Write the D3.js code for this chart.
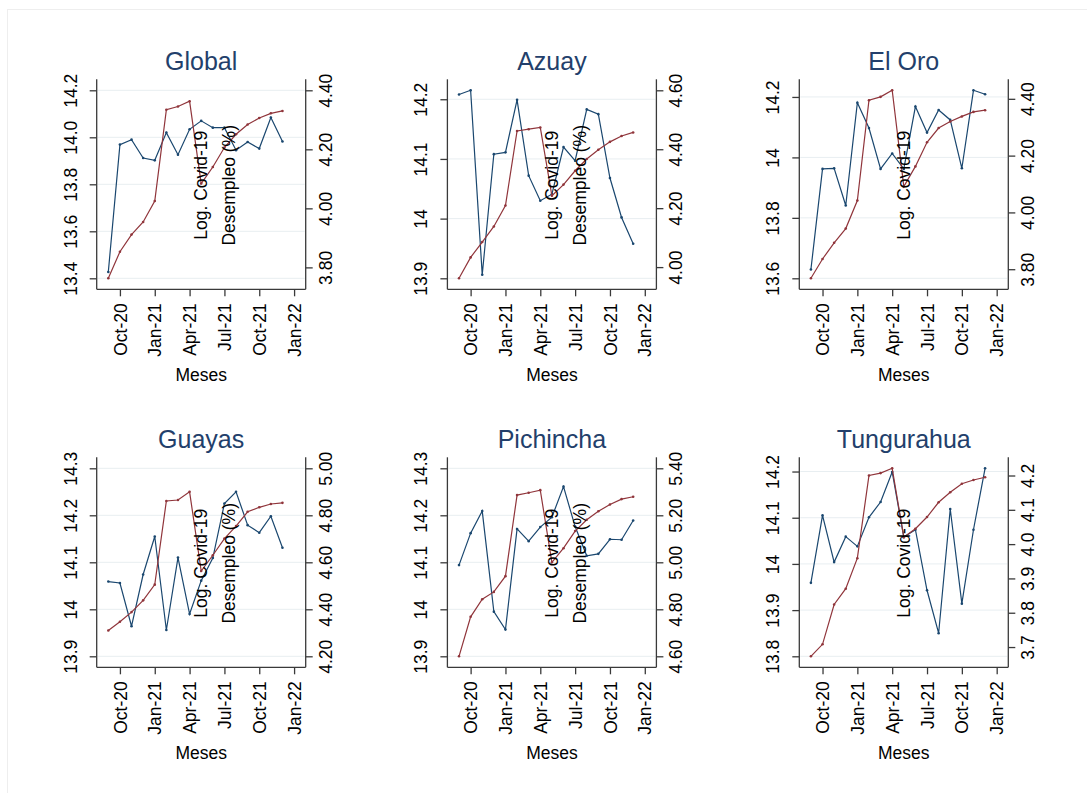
<!DOCTYPE html>
<html><head><meta charset="utf-8">
<script src="https://cdn.jsdelivr.net/npm/d3@7"></script>
<style>
body{margin:0;background:#fff}
svg{display:block}
text{font-family:"Liberation Sans",Arial,Helvetica,sans-serif}
</style>
</head><body>
<svg id="c" width="1087" height="793"></svg>
<script>
// ---- data ----
const months = ["Sep-20","Oct-20","Nov-20","Dec-20","Jan-21","Feb-21","Mar-21","Apr-21","May-21","Jun-21","Jul-21","Aug-21","Sep-21","Oct-21","Nov-21","Dec-21"];
const xTickIdx = [1,4,7,10,13,16];
const xTickLabels = ["Oct-20","Jan-21","Apr-21","Jul-21","Oct-21","Jan-22"];
const regions = ["Global","Azuay","El Oro","Guayas","Pichincha","Tungurahua"];

const covidGlobal = [13.427,13.969,13.990,13.912,13.902,14.020,13.926,14.034,14.070,14.041,14.041,13.945,13.980,13.952,14.084,13.982];
const desempleoGlobal = [3.763,3.853,3.911,3.954,4.025,4.334,4.345,4.363,4.084,4.140,4.206,4.251,4.284,4.306,4.322,4.330];

const covidAzuay = [14.208,14.215,13.906,14.108,14.111,14.199,14.072,14.030,14.041,14.120,14.097,14.183,14.175,14.068,14.002,13.958];
const desempleoAzuay = [3.962,4.033,4.085,4.138,4.209,4.462,4.468,4.474,4.242,4.280,4.327,4.367,4.398,4.425,4.445,4.457];

const covidElOro = [13.629,13.962,13.964,13.841,14.181,14.097,13.962,14.013,13.962,14.168,14.082,14.157,14.124,13.964,14.222,14.209];
const desempleoElOro = [3.768,3.836,3.893,3.943,4.042,4.395,4.407,4.430,4.091,4.162,4.247,4.297,4.320,4.338,4.354,4.360];

const covidGuayas = [14.059,14.056,13.964,14.074,14.155,13.956,14.110,13.990,14.061,14.109,14.225,14.250,14.179,14.163,14.198,14.131];
const desempleoGuayas = [4.310,4.347,4.388,4.438,4.505,4.861,4.865,4.900,4.563,4.630,4.701,4.754,4.815,4.834,4.848,4.853];

const covidPichincha = [14.094,14.162,14.209,13.995,13.957,14.171,14.145,14.175,14.196,14.261,14.176,14.114,14.118,14.149,14.148,14.189];
const desempleoPichincha = [4.600,4.768,4.843,4.874,4.941,5.286,5.296,5.307,5.000,5.060,5.133,5.181,5.217,5.246,5.269,5.279];

const covidTungurahua = [13.959,14.105,14.004,14.059,14.038,14.101,14.134,14.199,14.058,14.074,13.943,13.850,14.119,13.914,14.074,14.207];
const desempleoTungurahua = [3.673,3.708,3.824,3.870,3.959,4.200,4.207,4.221,4.020,4.045,4.079,4.122,4.151,4.176,4.187,4.195];

// tick values / labels per panel
const leftTicksGlobal = [13.4,13.6,13.8,14.0,14.2], leftLabelsGlobal = ["13.4","13.6","13.8","14.0","14.2"];
const rightTicksGlobal = [3.8,4.0,4.2,4.4], rightLabelsGlobal = ["3.80","4.00","4.20","4.40"];
const leftTicksAzuay = [13.9,14.0,14.1,14.2], leftLabelsAzuay = ["13.9","14","14.1","14.2"];
const rightTicksAzuay = [4.0,4.2,4.4,4.6], rightLabelsAzuay = ["4.00","4.20","4.40","4.60"];
const leftTicksElOro = [13.6,13.8,14.0,14.2], leftLabelsElOro = ["13.6","13.8","14","14.2"];
const rightTicksElOro = [3.8,4.0,4.2,4.4], rightLabelsElOro = ["3.80","4.00","4.20","4.40"];
const leftTicksGuayas = [13.9,14.0,14.1,14.2,14.3], leftLabelsGuayas = ["13.9","14","14.1","14.2","14.3"];
const rightTicksGuayas = [4.2,4.4,4.6,4.8,5.0], rightLabelsGuayas = ["4.20","4.40","4.60","4.80","5.00"];
const leftTicksPichincha = [13.9,14.0,14.1,14.2,14.3], leftLabelsPichincha = ["13.9","14","14.1","14.2","14.3"];
const rightTicksPichincha = [4.6,4.8,5.0,5.2,5.4], rightLabelsPichincha = ["4.60","4.80","5.00","5.20","5.40"];
const leftTicksTungurahua = [13.8,13.9,14.0,14.1,14.2], leftLabelsTungurahua = ["13.8","13.9","14","14.1","14.2"];
const rightTicksTungurahua = [3.7,3.8,3.9,4.0,4.1,4.2], rightLabelsTungurahua = ["3.7","3.8","3.9","4.0","4.1","4.2"];

// axis ranges
const leftDomains = [[13.4,14.2],[13.9,14.215],[13.6,14.222],[13.9,14.3],[13.9,14.3],[13.8,14.207]];
const rightDomains = [[3.763,4.40],[3.962,4.60],[3.768,4.430],[4.2,5.0],[4.6,5.4],[3.673,4.221]];

const covidSeries = [covidGlobal,covidAzuay,covidElOro,covidGuayas,covidPichincha,covidTungurahua];
const desempleoSeries = [desempleoGlobal,desempleoAzuay,desempleoElOro,desempleoGuayas,desempleoPichincha,desempleoTungurahua];
const leftTicks = [leftTicksGlobal,leftTicksAzuay,leftTicksElOro,leftTicksGuayas,leftTicksPichincha,leftTicksTungurahua];
const leftLabels = [leftLabelsGlobal,leftLabelsAzuay,leftLabelsElOro,leftLabelsGuayas,leftLabelsPichincha,leftLabelsTungurahua];
const rightTicks = [rightTicksGlobal,rightTicksAzuay,rightTicksElOro,rightTicksGuayas,rightTicksPichincha,rightTicksTungurahua];
const rightLabels = [rightLabelsGlobal,rightLabelsAzuay,rightLabelsElOro,rightLabelsGuayas,rightLabelsPichincha,rightLabelsTungurahua];
const showDesempleoTitle = [true,true,false,true,true,false];

// ---- layout ----
const NAVY = "#1a476f", MAROON = "#90353b", AX = "#3a3a3a", GRID = "#e8eef1", TITLE = "#233f6b";
const colX = [96.7, 447.4, 799.3];
const rowY = [79.3, 457.3];
const W = 209, H = 210, M = 11;
const FS = 17.5;

const svg = d3.select("#c");
svg.append("rect").attr("x",7.5).attr("y",9.5).attr("width",1200).attr("height",900)
  .attr("fill","#fff").attr("stroke","#eeeeee").attr("stroke-width",1);

regions.forEach((name, i) => {
  const L = colX[i % 3], T = rowY[Math.floor(i / 3)];
  const R = L + W, B = T + H;
  const g = svg.append("g");

  const x = d3.scaleLinear().domain([-1, 17]).range([L, R]);
  const yL = d3.scaleLinear().domain(leftDomains[i]).range([B - M, T + M]);
  const yR = d3.scaleLinear().domain(rightDomains[i]).range([B - M, T + M]);

  // gridlines at left ticks
  g.append("g").selectAll("line").data(leftTicks[i]).join("line")
    .attr("x1", L + 1).attr("x2", R - 1)
    .attr("y1", d => yL(d)).attr("y2", d => yL(d))
    .attr("stroke", GRID).attr("stroke-width", 1);

  // axis lines
  g.append("line").attr("x1",L).attr("x2",L).attr("y1",T).attr("y2",B).attr("stroke",AX).attr("stroke-width",1.3);
  g.append("line").attr("x1",R).attr("x2",R).attr("y1",T).attr("y2",B).attr("stroke",AX).attr("stroke-width",1.3);
  g.append("line").attr("x1",L).attr("x2",R).attr("y1",B).attr("y2",B).attr("stroke",AX).attr("stroke-width",1.3);

  // left axis
  const la = g.append("g").attr("transform", `translate(${L},0)`)
    .call(d3.axisLeft(yL).tickValues(leftTicks[i]).tickFormat((d, k) => leftLabels[i][k]).tickSize(7).tickSizeOuter(0));
  la.select(".domain").remove();
  la.selectAll("line").attr("stroke", AX).attr("stroke-width", 1.3);
  la.selectAll("text").attr("x", null).attr("dy", null)
    .attr("transform", "translate(-20,0) rotate(-90)")
    .attr("text-anchor", "middle").attr("font-size", FS).attr("fill", "#000").attr("font-family", null);

  // right axis
  const ra = g.append("g").attr("transform", `translate(${R},0)`)
    .call(d3.axisRight(yR).tickValues(rightTicks[i]).tickFormat((d, k) => rightLabels[i][k]).tickSize(7).tickSizeOuter(0));
  ra.select(".domain").remove();
  ra.selectAll("line").attr("stroke", AX).attr("stroke-width", 1.3);
  ra.selectAll("text").attr("x", null).attr("dy", null)
    .attr("transform", "translate(26,0) rotate(-90)")
    .attr("text-anchor", "middle").attr("font-size", FS).attr("fill", "#000").attr("font-family", null);

  // bottom axis
  const ba = g.append("g").attr("transform", `translate(0,${B})`)
    .call(d3.axisBottom(x).tickValues(xTickIdx).tickFormat((d, k) => xTickLabels[k]).tickSize(7).tickSizeOuter(0));
  ba.select(".domain").remove();
  ba.selectAll("line").attr("stroke", AX).attr("stroke-width", 1.3);
  ba.selectAll("text").attr("y", null).attr("dy", "0.35em")
    .attr("transform", "translate(0,14) rotate(-90)")
    .attr("text-anchor", "end").attr("font-size", FS).attr("fill", "#000").attr("font-family", null);

  // series lines
  const lineL = d3.line().x((d, k) => x(k)).y(d => yL(d));
  const lineR = d3.line().x((d, k) => x(k)).y(d => yR(d));
  g.append("path").datum(covidSeries[i]).attr("d", lineL).attr("fill","none").attr("stroke",NAVY).attr("stroke-width",1.2);
  g.append("g").selectAll("circle").data(covidSeries[i]).join("circle")
    .attr("cx", (d, k) => x(k)).attr("cy", d => yL(d)).attr("r", 1.3).attr("fill", NAVY);
  g.append("path").datum(desempleoSeries[i]).attr("d", lineR).attr("fill","none").attr("stroke",MAROON).attr("stroke-width",1.2);
  g.append("g").selectAll("circle").data(desempleoSeries[i]).join("circle")
    .attr("cx", (d, k) => x(k)).attr("cy", d => yR(d)).attr("r", 1.3).attr("fill", MAROON);

  // axis titles (drawn mid-plot as in the original)
  const cx = (L + R) / 2, cy = (T + B) / 2 + 1;
  g.append("text").attr("transform", `translate(${cx},${cy}) rotate(-90)`).attr("dy","0.35em")
    .attr("text-anchor","middle").attr("font-size",FS).text("Log. Covid-19");
  if (showDesempleoTitle[i]) {
    g.append("text").attr("transform", `translate(${cx + 28},${cy}) rotate(-90)`).attr("dy","0.35em")
      .attr("text-anchor","middle").attr("font-size",FS).text("Desempleo (%)");
  }
  g.append("text").attr("x", cx).attr("y", B + 92).attr("text-anchor","middle").attr("font-size",FS).text("Meses");

  // panel title
  g.append("text").attr("x", cx).attr("y", T - 9).attr("text-anchor","middle")
    .attr("font-size", 25).attr("fill", TITLE).text(name);
});
</script>
</body></html>
